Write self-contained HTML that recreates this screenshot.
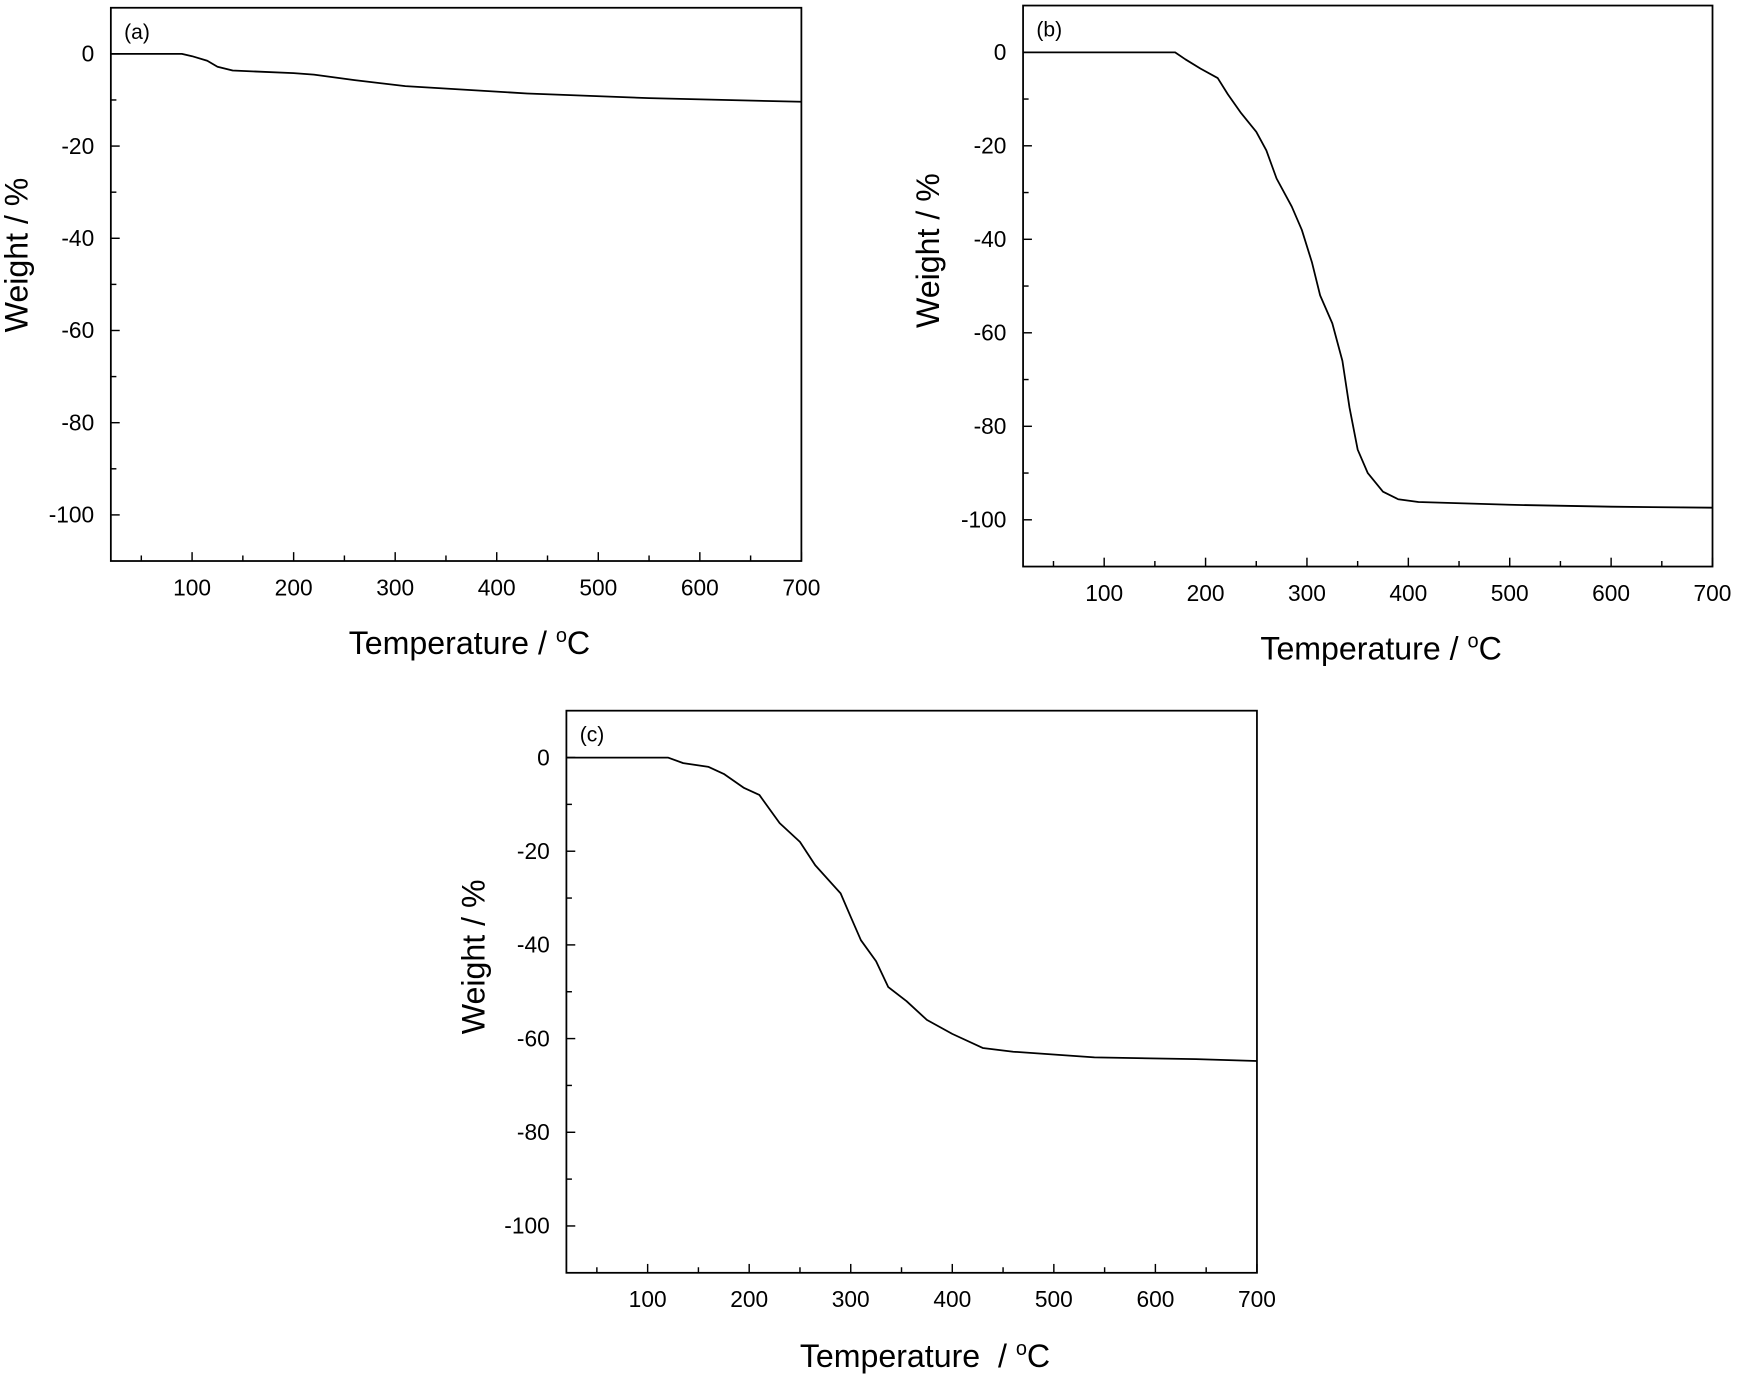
<!DOCTYPE html>
<html><head><meta charset="utf-8"><style>
html,body{margin:0;padding:0;background:#fff;}
svg{display:block;}
text{font-family:"Liberation Sans",Arial,sans-serif;fill:#000;}
</style></head><body>
<svg id="s" width="1738" height="1387" viewBox="0 0 1568 1251" preserveAspectRatio="none" xmlns="http://www.w3.org/2000/svg"></svg>
<script>
var svg=document.getElementById('s');
var NS='http://www.w3.org/2000/svg';
function el(t,a,txt){var e=document.createElementNS(NS,t);for(var k in a)e.setAttribute(k,a[k]);if(txt!==undefined)e.textContent=txt;svg.appendChild(e);return e;}
function panel(L,R,T,B,label,data,xtitle,yTitleX,xTitleY,cy){
  var sx=function(v){return L+(v-20)/(680)*(R-L);};
  var sy=function(v){return T+(10-v)/120*(B-T);};
  el('rect',{x:L,y:T,width:R-L,height:B-T,fill:'none',stroke:'#000','stroke-width':1.6});
  for(var v=50;v<=700;v+=50){var x=sx(v);var len=(v%100==0)?8:5;
    el('line',{x1:x,y1:B,x2:x,y2:B-len,stroke:'#000','stroke-width':1.3});
    if(v%100==0) el('text',{x:x,y:B+31,'font-size':20.5,'text-anchor':'middle'},String(v));}
  for(var w=-110;w<=10;w+=10){var y=sy(w);var len=(w%20==0)?8:5;
    if(w==-110||w==10)continue;
    el('line',{x1:L,y1:y,x2:L+len,y2:y,stroke:'#000','stroke-width':1.3});
    if(w%20==0) el('text',{x:L-15,y:y+7,'font-size':20.5,'text-anchor':'end'},String(w));}
  el('text',{x:L+12,y:T+28,'font-size':19},label);
  var d='';data.forEach(function(p,i){d+=(i?'L':'M')+sx(p[0]).toFixed(1)+' '+sy(p[1]).toFixed(1);});
  el('path',{d:d,fill:'none',stroke:'#000','stroke-width':1.6,'stroke-linejoin':'round'});
  var xt=el('text',{x:(L+R)/2+12,y:xTitleY,'font-size':29,'text-anchor':'middle'});
  xt.innerHTML=xtitle;
  el('text',{x:yTitleX,y:cy,'font-size':29,'text-anchor':'middle',transform:'rotate(-90 '+yTitleX+' '+cy+')'},'Weight / %');
}
var a=[[20,0],[90,0],[100,-0.5],[115,-1.5],[125,-2.8],[140,-3.6],[200,-4.2],[220,-4.5],[260,-5.7],[310,-7],[430,-8.6],[550,-9.6],[700,-10.4]];
var b=[[20,0],[170,0],[180,-1.5],[195,-3.5],[212,-5.5],[222,-9],[235,-13],[250,-17],[260,-21],[270,-27],[285,-33],[295,-38],[305,-45],[313,-52],[325,-58],[335,-66],[342,-76],[350,-85],[360,-90],[375,-94],[390,-95.6],[410,-96.2],[500,-96.8],[600,-97.2],[700,-97.4]];
var c=[[20,0],[120,0],[135,-1.2],[160,-2],[175,-3.5],[195,-6.5],[210,-8],[220,-11],[230,-14],[250,-18],[265,-23],[290,-29],[300,-34],[310,-39],[325,-43.5],[337,-49],[355,-52],[375,-56],[400,-59],[430,-62],[460,-62.8],[540,-64],[640,-64.4],[700,-64.8]];
var sup='<tspan dy="-11" font-size="18">o</tspan><tspan dy="11">C</tspan>';
panel(100,723,7,506,'(a)',a,'Temperature / '+sup,25,590,230);
panel(923,1545,5,511,'(b)',b,'Temperature / '+sup,847,595,226);
panel(511,1134,641,1148,'(c)',c,'Temperature &#160;/ '+sup,437,1233,863);
</script>
</body></html>
